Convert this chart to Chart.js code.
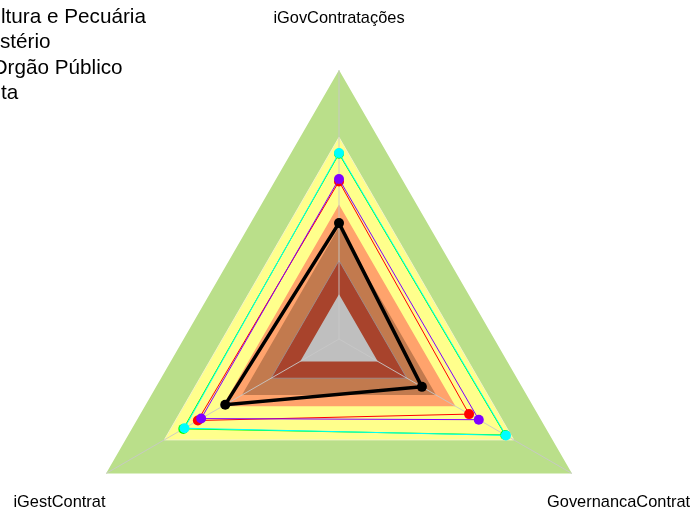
<!DOCTYPE html>
<html>
<head>
<meta charset="utf-8">
<script src="https://cdn.jsdelivr.net/npm/chart.js@4.4.0/dist/chart.umd.min.js"></script>
<style>
  html, body { margin: 0; padding: 0; background: #fff; overflow: hidden; }
  #wrap { width: 691px; height: 513px; overflow: hidden; position: relative; }
  canvas { display: block; }
</style>
</head>
<body>
<div id="wrap"><canvas id="radar" width="691" height="620"></canvas></div>
<script>
// eixos do radar
const eixos = ['iGovContratações', 'GovernancaContrat', 'iGestContrat'];
// parte visível da legenda (cortada à esquerda no original)
const legendaTextos = ['ltura e Pecuária', 'stério', 'Orgão Público', 'ta'];

// séries (escala 0 a 1)
const serieBlack = [0.317, 0.227, 0.386];
const serieRed = [0.503, 0.47, 0.527];
const seriePurple = [0.514, 0.52, 0.51];
const serieCyan = [0.63, 0.66, 0.596];
const serieGreen = [0.626, 0.656, 0.602];

// faixas de referência (fundo)
const faixas = [0, 0.15, 0.30, 0.40, 0.70, 1.0];
const coresFaixas = ['#bfbfbf', '#a8432c', '#c27a4e', '#ffa36c', '#ffff8c', '#badf8a'];
const bordasFaixas = ['rgba(0,0,0,0)', '#a08a86', 'rgba(0,0,0,0)', 'rgba(0,0,0,0)', '#f4f4c8', 'rgba(0,0,0,0)'];

function serie(dados, cor, largura) {
    return {
        data: dados,
        borderColor: cor,
        borderWidth: largura,
        backgroundColor: cor,
        pointBackgroundColor: cor,
        pointBorderWidth: 0,
        pointRadius: 5,
        fill: false
    };
}

const datasets = [
    serie(serieBlack, '#000000', 3.5),
    serie(seriePurple, '#8000ff', 1),
    serie(serieRed, '#ff0000', 1),
    serie(serieCyan, '#00ffff', 1),
    serie(serieGreen, '#00ff00', 1)
];
const primeiraFaixa = datasets.length;

faixas.forEach((nivel, i) => {
    datasets.push({
        data: eixos.map(() => nivel),
        borderColor: bordasFaixas[i],
        borderWidth: 1,
        backgroundColor: coresFaixas[i],
        pointRadius: 0,
        fill: 'start'
    });
});

// linhas dos eixos por cima das faixas e textos (rótulos e legenda)
const extras = {
    id: 'extras',
    afterDatasetDraw(chart, args) {
        if (args.index !== primeiraFaixa) return;
        const r = chart.scales.r;
        const ctx = chart.ctx;
        ctx.save();
        ctx.strokeStyle = 'rgba(200,200,200,0.9)';
        ctx.lineWidth = 1;
        for (let i = 0; i < eixos.length; i++) {
            const p = r.getPointPositionForValue(i, r.max);
            ctx.beginPath();
            ctx.moveTo(r.xCenter, r.yCenter);
            ctx.lineTo(p.x, p.y);
            ctx.stroke();
        }
        ctx.restore();
    },
    afterDraw(chart) {
        const r = chart.scales.r;
        const ctx = chart.ctx;
        ctx.save();
        ctx.fillStyle = '#000';
        ctx.font = '16.4px "Liberation Sans", Arial, sans-serif';
        ctx.textAlign = 'center';
        ctx.textBaseline = 'alphabetic';
        eixos.forEach((txt, i) => {
            const p = r.getPointPosition(i, r.drawingArea * 1.2);
            ctx.fillText(txt, p.x, p.y + 6.5);
        });
        ctx.font = '20.7px "Liberation Sans", Arial, sans-serif';
        ctx.textAlign = 'left';
        const xs = [1, 0, -8.5, 1];
        legendaTextos.forEach((txt, i) => {
            ctx.fillText(txt, xs[i], 23 + i * 25.3);
        });
        ctx.restore();
    }
};

new Chart(document.getElementById('radar'), {
    type: 'radar',
    data: { labels: eixos, datasets: datasets },
    options: {
        responsive: false,
        animation: false,
        layout: { padding: { left: 70, right: 83, top: 70, bottom: 12 } },
        elements: { line: { tension: 0 } },
        plugins: { legend: { display: false }, tooltip: { enabled: false } },
        scales: {
            r: {
                min: -0.2,
                max: 1.0,
                ticks: { display: false },
                grid: { display: false },
                angleLines: { display: false },
                pointLabels: { display: false }
            }
        }
    },
    plugins: [extras]
});
</script>
</body>
</html>
